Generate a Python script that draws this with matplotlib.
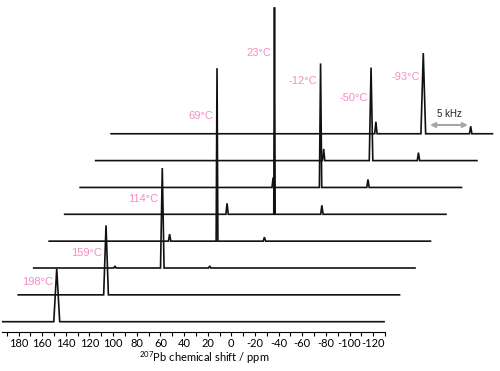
import matplotlib
matplotlib.use('Agg')
import matplotlib.pyplot as plt
from matplotlib.ticker import FixedLocator

plt.rcParams['axes.unicode_minus'] = False
plt.rcParams['mathtext.fontset'] = 'custom'
plt.rcParams['mathtext.rm'] = 'Lato'
plt.rcParams['mathtext.default'] = 'regular'

# 207Pb spectra, bottom (hottest) to top (coldest)
temps = ['198°C', '159°C', '114°C', '69°C', '23°C', '-12°C', '-50°C', '-93°C']
peak_ppm = [147.7, 119.1, 84.6, 51.4, 15.9, -10.0, -39.6, -70.7]
peak_height = [53, 69.5, 100, 173, 207, 124, 93, 80.7]
peak_width = [5.0, 4.0, 3.0, 1.5, 1.2, 2.0, 3.0, 4.0]
# spinning sidebands at +/- 5 kHz
sb_sep = 40.1
sb_left = [0, 0, 2, 7, 11, 10, 11.7, 12]
sb_right = [0, 0, 2, 4, 9, 8, 8, 7.5]
sb_width = 2.0
ppm_start, ppm_end = 193.4, -129.2

# stacking offsets
dx = 13.1      # ppm shift per trace
y0, dy = 10.0, 26.85
label_y = [49.7, 79, 132.7, 215.7, 279, 250.7, 233.4, 254.4]
pink = '#F58DC5'

fig = plt.figure(figsize=(5, 3.71), dpi=100)
ax = fig.add_axes([0, 39.3 / 371, 1, 331.7 / 371])
ax.set_xlim(195.7, -227.3)
ax.set_ylim(0, 331.7)

for i, t in enumerate(temps):
    peaks = [(peak_ppm[i], peak_height[i], peak_width[i])]
    if sb_left[i]:
        peaks.append((peak_ppm[i] + sb_sep, sb_left[i], sb_width))
    if sb_right[i]:
        peaks.append((peak_ppm[i] - sb_sep, sb_right[i], sb_width))
    peaks.sort(key=lambda p: -p[0])
    xs, ys = [ppm_start], [0]
    for p, h, w in peaks:
        xs += [p + w / 2, p, p - w / 2]
        ys += [0, h, 0]
    xs.append(ppm_end)
    ys.append(0)
    off = y0 + dy * i
    ax.plot([x - dx * i for x in xs], [y + off for y in ys],
            color='#111111', lw=1.2, solid_joinstyle='miter')
    ax.text(peak_ppm[i] - dx * i + 3.5 / 1.182, label_y[i], t,
            ha='right', va='center', color=pink, fontsize=8,
            family='Liberation Sans')

# 5 kHz arrow on the top trace
top = len(temps) - 1
xa = peak_ppm[top] - dx * top - 5.7
xb = peak_ppm[top] - sb_sep - dx * top + 2.3
ya = 206.7
ax.annotate('', xy=(xb, ya), xytext=(xa, ya),
            arrowprops=dict(arrowstyle='<|-|>', color='#A6A6A6', lw=1.5,
                            mutation_scale=7, shrinkA=0, shrinkB=0))
ax.text((xa + xb) / 2, ya + 11, '5 kHz', ha='center', va='center',
        fontsize=7, family='Liberation Sans', color='#222222')

for s in ['left', 'right', 'top']:
    ax.spines[s].set_visible(False)
ax.spines['bottom'].set_bounds(-130, 194)
ax.spines['bottom'].set_linewidth(0.8)
ax.set_yticks([])
ax.xaxis.set_major_locator(FixedLocator(list(range(180, -121, -20))))
ax.xaxis.set_minor_locator(FixedLocator(list(range(190, -131, -20))))
ax.tick_params(axis='x', which='both', direction='out', length=2.6, width=0.8, pad=2.0)
ax.tick_params(axis='x', which='major', labelsize=8)
for lab in ax.get_xticklabels():
    lab.set_family('Lato')
ax.set_xlabel(r'$^{207}$Pb chemical shift / ppm', fontsize=8, family='Lato')
ax.xaxis.set_label_coords(204 / 500, -0.052)

fig.savefig('out.png', dpi=100)
